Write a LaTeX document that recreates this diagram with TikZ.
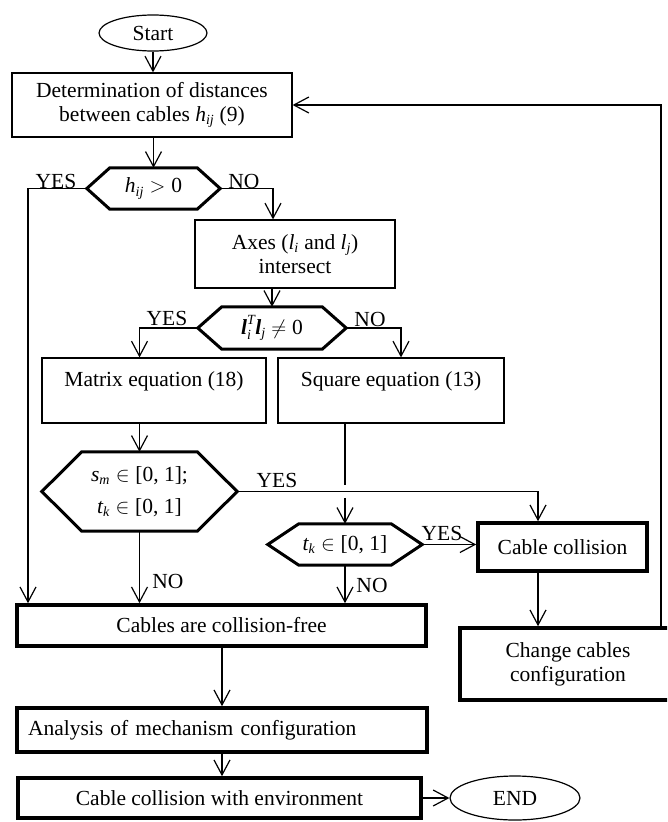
\documentclass[tikz,border=0pt]{standalone}
\usepackage{amsmath}
\usepackage{fontspec}
\setmainfont{Liberation Serif}
\usetikzlibrary{arrows.meta,calc,shapes.geometric}
\DeclareMathSizes{21.5}{21.5}{14}{10}
\begin{document}
\begin{tikzpicture}[x=1pt,y=-1pt,
  every node/.style={font=\fontsize{21.5}{24}\selectfont},
  base/.style={draw, line width=1.2pt, align=center, inner sep=0pt},
  thickbox/.style={draw, line width=3.6pt, align=center, inner sep=0pt},
  hexnode/.style={inner sep=0pt, align=center},
  lbl/.style={inner sep=0pt},
  conn/.style={line width=1.2pt},
  arr/.style={line width=1.2pt, -{Straight Barb[length=15pt,width=16pt]}},
  hexline/.style={line width=3pt, line join=miter}]
\clip (0,0) rectangle (667,822);
% nodes
\node[base, ellipse, minimum width=108pt, minimum height=36pt] (start) at (153,33) {Start};
\node[base, minimum width=280pt, minimum height=64pt] (det) at (152,105) {Determination of distances\\between cables \textit{h}\textsubscript{\textit{ij}} (9)};
\node[hexnode, minimum width=133pt, minimum height=41pt] (hx1) at (153.5,188.5) {$\textit{h}_{\textit{ij}} > \text{0}$};
\node[base, minimum width=200pt, minimum height=68pt] (axes) at (295,254) {Axes (\textit{l}\textsubscript{\textit{i}} and \textit{l}\textsubscript{\textit{j}})\\intersect};
\node[hexnode, minimum width=148pt, minimum height=42pt] (hx2) at (272,328) {$\textbf{\textit{l}}_{\textit{i}}^{\textit{T}}\textbf{\textit{l}}_{\textit{j}} \neq \text{0}$};
\node[base, minimum width=224pt, minimum height=65pt, text height=16pt, text depth=24pt] (mat) at (154,390.5) {Matrix equation (18)};
\node[base, minimum width=226pt, minimum height=65pt, text height=16pt, text depth=24pt] (sq) at (391,390.5) {Square equation (13)};
\node[hexnode, minimum width=195pt, minimum height=79pt] (hx3) at (139.5,491.5) {$\textit{s}_{\textit{m}} \in \text{[0, 1];}$\\[8pt]$\textit{t}_{\textit{k}} \in \text{[0, 1]}$};
\node[hexnode, minimum width=154pt, minimum height=41pt] (hx4) at (345,544.5) {$\textit{t}_{\textit{k}} \in \text{[0, 1]}$};
\node[thickbox, minimum width=169pt, minimum height=48pt] (coll) at (562.5,547) {Cable collision};
\node[thickbox, minimum width=216pt, minimum height=72pt] (chg) at (568,664) {Change cables\\configuration};
\node[thickbox, minimum width=409pt, minimum height=41pt] (free) at (221.5,625.5) {Cables are collision-free};
\node[thickbox, minimum width=410pt, minimum height=44pt, text width=388pt, align=left] (ana) at (222,730) {Analysis of mechanism configuration};
\node[thickbox, minimum width=403pt, minimum height=40pt] (env) at (219.5,798) {Cable collision with environment};
\node[base, ellipse, minimum width=130pt, minimum height=44pt] (end) at (515,798) {END};
% hexagon outlines
\foreach \n/\s in {hx1/23, hx2/24, hx3/40, hx4/31} {
  \draw[hexline] (\n.west) -- ($(\n.north west)+(\s,0)$) -- ($(\n.north east)+(-\s,0)$) -- (\n.east)
    -- ($(\n.south east)+(-\s,0)$) -- ($(\n.south west)+(\s,0)$) -- cycle;
}
% helper coordinates
\coordinate (xl) at (28,0);
\coordinate (xno1) at (273,0);
\coordinate (xno2) at (401,0);
\coordinate (xc) at (538,0);
\coordinate (xfb) at (661,0);
% connectors
\draw[arr] (start.south) -- (start.south |- det.north);
\draw[arr] (det.south -| hx1.north) -- (hx1.north);
\draw[arr] (hx1.west) -| (free.north -| xl);
\draw[arr] (hx1.east) -| (axes.north -| xno1);
\draw[arr] (axes.south -| hx2.north) -- (hx2.north);
\draw[arr] (hx2.west) -| (mat.north -| hx3.north);
\draw[arr] (hx2.east) -| (sq.north -| xno2);
\draw[arr] (mat.south -| hx3.north) -- (hx3.north);
\draw[conn] (sq.south -| hx4.north) -- ++(0,61);
\draw[arr] ($(hx4.north)+(0,-26)$) -- (hx4.north);
\draw[arr] (hx3.east) -| (coll.north -| xc);
\draw[arr] (hx4.east) -- (hx4.east -| coll.west);
\draw[arr] (coll.south -| xc) -- (chg.north -| xc);
\draw[arr] (chg.north -| xfb) |- (det.east);
\draw[arr] (hx3.south) -- (hx3.south |- free.north);
\draw[arr] (hx4.south) -- (hx4.south |- free.north);
\draw[arr] (free.south -| ana.north) -- (ana.north);
\draw[arr] (ana.south) -- (ana.south |- env.north);
\draw[arr] (env.east) -- (end.west);
% labels
\node[lbl] (yes1) at (56,181) {YES};
\node[lbl] (no1) at (244,181) {NO};
\node[lbl] (yes2) at (167,318) {YES};
\node[lbl] (no2) at (370,319) {NO};
\node[lbl] (yes3) at (277,480) {YES};
\node[lbl] (yes4) at (442,533) {YES};
\node[lbl] (no3) at (168,581) {NO};
\node[lbl] (no4) at (372,585) {NO};
\end{tikzpicture}
\end{document}
